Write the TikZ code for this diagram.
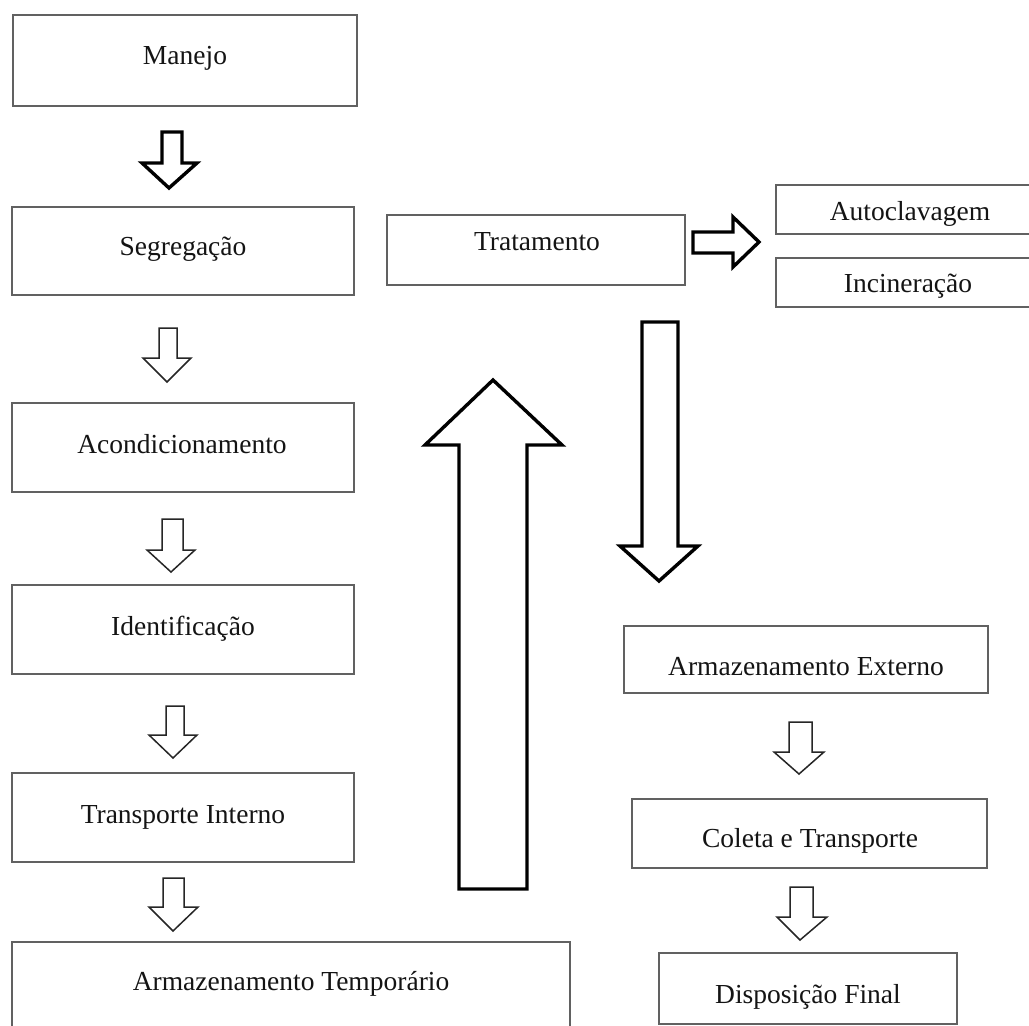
\documentclass[tikz,border=0pt]{standalone}
\usepackage{fontspec}
\setmainfont{Liberation Serif}
\begin{document}
\begin{tikzpicture}[x=1pt,y=-1pt,
  box/.style={draw=black!62, line width=1.3pt, inner sep=0pt},
  txt/.style={anchor=base, font=\fontsize{27.5}{30}\selectfont, inner sep=0pt, text=black!92},
  thinarrow/.style={draw=black!85, line width=1.5pt, fill=white, line join=miter},
  thickarrow/.style={draw=black, line width=3.4pt, fill=white, line join=miter}]
\useasboundingbox (0,0) rectangle (1029,1026);
\clip (0,0) rectangle (1029,1026);
\fill[white] (0,0) rectangle (1029,1026);
% boxes: \boxat{name}{left}{top}{right}{bottom}
\newcommand{\boxat}[5]{\node[box, minimum width={(#4-#2)*1pt}, minimum height={(#5-#3)*1pt}] (#1) at ({(#2+#4)/2},{(#3+#5)/2}) {};}
\boxat{man}{13}{15}{357}{106}
\boxat{seg}{12}{207}{354}{295}
\boxat{aco}{12}{403}{354}{492}
\boxat{ide}{12}{585}{354}{674}
\boxat{tin}{12}{773}{354}{862}
\boxat{atp}{12}{942}{570}{1045}
\boxat{tra}{387}{215}{685}{285}
\boxat{aut}{776}{185}{1045}{234}
\boxat{inc}{776}{258}{1045}{307}
\boxat{aex}{624}{626}{988}{693}
\boxat{col}{632}{799}{987}{868}
\boxat{dis}{659}{953}{957}{1024}
% texts
\node[txt] (man-t) at (185,64) {Manejo};
\node[txt] (seg-t) at (183,255) {Segregação};
\node[txt] (aco-t) at (182,453) {Acondicionamento};
\node[txt] (ide-t) at (183,635) {Identificação};
\node[txt] (tin-t) at (183,823) {Transporte Interno};
\node[txt] (atp-t) at (291,990) {Armazenamento Temporário};
\node[txt] (tra-t) at (537,250) {Tratamento};
\node[txt] (aut-t) at (910,220) {Autoclavagem};
\node[txt] (inc-t) at (908,292) {Incineração};
\node[txt] (aex-t) at (806,675) {Armazenamento Externo};
\node[txt] (col-t) at (810,847) {Coleta e Transporte};
\node[txt] (dis-t) at (808,1003) {Disposição Final};
% block arrow down: style, shaftL, shaftR, top, headL, headR, base, tipx, tipy
\newcommand{\dnarrow}[9]{\draw[#1] (#2,#4) -- (#3,#4) -- (#3,#7) -- (#6,#7) -- (#8,#9) -- (#5,#7) -- (#2,#7) -- cycle;}
\dnarrow{thickarrow}{162}{182}{132}{142}{197}{163}{169}{188}
\dnarrow{thinarrow}{159}{177}{328}{143}{191}{358}{167}{382}
\dnarrow{thinarrow}{162}{183}{519}{147}{195}{550}{171}{572}
\dnarrow{thinarrow}{166}{184}{706}{149}{197}{735}{173}{758}
\dnarrow{thinarrow}{163}{184}{878}{149}{198}{907}{173}{931}
\dnarrow{thinarrow}{789}{812}{722}{774}{824}{752}{799}{774}
\dnarrow{thinarrow}{790}{813}{887}{777}{827}{917}{800}{940}
% big down arrow
\dnarrow{thickarrow}{642}{678}{322}{620}{698}{546}{659}{581}
% big up arrow
\draw[thickarrow] (459,889) -- (527,889) -- (527,445) -- (562,445) -- (493,380) -- (425,445) -- (459,445) -- cycle;
% right arrow
\draw[thickarrow] (693,232) -- (733,232) -- (733,217) -- (759,242) -- (733,267) -- (733,253) -- (693,253) -- cycle;
\end{tikzpicture}
\end{document}
